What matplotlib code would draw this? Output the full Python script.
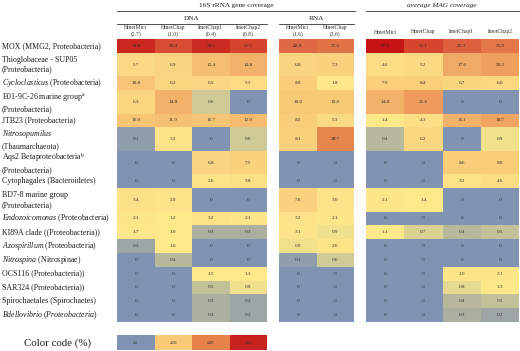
import numpy as np
import matplotlib
matplotlib.use("Agg")
import matplotlib.pyplot as plt
from matplotlib.colors import LinearSegmentedColormap, Normalize

plt.rcParams["font.family"] = ["Liberation Serif", "DejaVu Serif"]
plt.rcParams["mathtext.fontset"] = "custom"
plt.rcParams["mathtext.rm"] = "Liberation Serif"
plt.rcParams["mathtext.it"] = "Liberation Serif:italic"

ROW_LABELS = [
    "MOX (MMG2, Proteobacteria)",
    "Thioglobaceae - SUP05\n(Proteobacteria)",
    r"$\mathit{Cycloclasticus}$ (Proteobacteria)",
    "E01-9C-26 marine group$^{\\mathrm{a}}$\n(Proteobacteria)",
    "JTB23 (Proteobacteria)",
    "$\\mathit{Nitrosopumilus}$\n(Thaumarchaeota)",
    "Aqs2 Betaproteobacteria$^{\\mathrm{b}}$\n(Proteobacteria)",
    "Cytophagales (Bacteroidetes)",
    "BD7-8 marine group\n(Proteobacteria)",
    r"$\mathit{Endozoicomonas}$ (Proteobacteria)",
    "KI89A clade ((Proteobacteria))",
    r"$\mathit{Azospirillum}$ (Proteobacteria)",
    r"$\mathit{Nitrospina}$ (Nitrospinae)",
    "OCS116 (Proteobacteria))",
    "SAR324 (Proteobacteria))",
    "Spirochaetales (Spirochaetes)",
    r"$\mathit{Bdellovibrio\ (Proteobacteria)}$",
]

DNA_COLS = ["HmetMict\n(2.7)", "HmetChap\n(1.0)", "ImetChap1\n(0.4)", "ImetChap2\n(0.8)"]
RNA_COLS = ["HmetMict\n(1.6)", "HmetChap\n(3.6)"]
MAG_COLS = ["HmetMict", "HmetChap", "ImetChap1", "ImetChap2"]

DNA = [
    [58.8, 50.4, 58.1, 52.5],
    [5.7, 6.9, 12.4, 14.8],
    [10.8, 6.2, 6.5, 5.1],
    [6.3, 14.8, 0.6, 0],
    [10.9, 11.9, 10.7, 12.9],
    [0.1, 3.2, 0, 0.6],
    [0, 0, 6.8, 7.5],
    [0, 0, 2.6, 3.8],
    [3.4, 2.9, 0, 0],
    [2.1, 1.2, 3.2, 2.1],
    [1.7, 1.0, 0.3, 0.3],
    [0.2, 1.0, 0, 0],
    [0, 0.4, 0, 0],
    [0, 0, 1.5, 1.3],
    [0, 0, 0.5, 0.9],
    [0, 0, 0.3, 0.2],
    [0, 0, 0.3, 0.2],
]

RNA = [
    [42.8, 37.6],
    [6.8, 7.3],
    [8.9, 1.8],
    [10.0, 10.0],
    [8.5, 5.3],
    [8.1, 28.7],
    [0, 0],
    [0, 0],
    [7.6, 3.0],
    [3.2, 2.1],
    [3.1, 0.9],
    [0.9, 2.6],
    [0.1, 0.6],
    [0, 0],
    [0, 0],
    [0, 0],
    [0, 0],
]

MAG = [
    [67.6, 52.1, 45.3, 35.9],
    [4.6, 5.2, 17.0, 20.2],
    [7.9, 8.4, 6.7, 6.0],
    [14.8, 21.6, 0, 0],
    [1.4, 4.3, 15.1, 18.7],
    [0.4, 6.2, 0, 0.9],
    [0, 0, 8.6, 9.0],
    [0, 0, 3.2, 4.6],
    [2.1, 1.4, 0, 0],
    [0, 0, 0, 0],
    [1.1, 0.7, 0.4, 0.5],
    [0, 0, 0, 0],
    [0, 0, 0, 0],
    [0, 0, 2.0, 2.1],
    [0, 0, 0.8, 1.3],
    [0, 0, 0.4, 0.5],
    [0, 0, 0.3, 0.2],
]

LEGEND_VALUES = [0, 10, 30, 60]
LEGEND_LABELS = ["≤0", "≤10", "≤30", "≤60"]

W, H = 520, 351
VMAX = 68.0

anchors = [
    (0.0, "#8193b3"),
    (0.25, "#a6aba1"),
    (0.55, "#c9c697"),
    (1.0, "#fde98a"),
    (3.0, "#fde389"),
    (6.0, "#fbd782"),
    (10.0, "#f8c977"),
    (15.0, "#f3b169"),
    (21.0, "#ee9d5e"),
    (30.0, "#e7834a"),
    (43.0, "#df6845"),
    (52.0, "#d6472f"),
    (60.0, "#c8221c"),
    (VMAX, "#c41414"),
]
cmap = LinearSegmentedColormap.from_list(
    "cov", [(v / VMAX, c) for v, c in anchors], N=4096
)
norm = Normalize(0, VMAX)

# double-line rows are taller
row_weights = np.array([1.7 if "\n" in r else 1.0 for r in ROW_LABELS])
y_edges = np.concatenate([[0], np.cumsum(row_weights)])
y_mid = (y_edges[:-1] + y_edges[1:]) / 2

TOP, BOTTOM = 39, 322


def px_axes(fig, x0, y0, x1, y1):
    return fig.add_axes([x0 / W, 1 - y1 / H, (x1 - x0) / W, (y1 - y0) / H])


def fmt(v):
    return "0" if v == 0 else f"{v:.1f}"


def draw_block(ax, values):
    values = np.asarray(values, dtype=float)
    ncol = values.shape[1]
    ax.pcolormesh(np.arange(ncol + 1), y_edges, values, cmap=cmap, norm=norm)
    for i in range(values.shape[0]):
        for j in range(ncol):
            ax.text(j + 0.5, y_mid[i], fmt(values[i, j]), ha="center",
                    va="center", fontsize=3.7, color="#2b2b2b")
    ax.set_xlim(0, ncol)
    ax.set_ylim(y_edges[-1], 0)
    ax.axis("off")


fig = plt.figure(figsize=(W / 100, H / 100), dpi=100)

blocks = [
    (DNA, DNA_COLS, 117, 267),
    (RNA, RNA_COLS, 279, 354),
    (MAG, MAG_COLS, 366, 519),
]
for values, cols, x0, x1 in blocks:
    ax = px_axes(fig, x0, TOP, x1, BOTTOM)
    draw_block(ax, values)

# overlay for labels and header lines, in pixel units
ov = fig.add_axes([0, 0, 1, 1], zorder=-1)
ov.set_xlim(0, W)
ov.set_ylim(H, 0)
ov.axis("off")

row_px = TOP + y_mid / y_edges[-1] * (BOTTOM - TOP)
for label, y in zip(ROW_LABELS, row_px):
    ov.text(2, y, label, ha="left", va="center", fontsize=5.7,
            color="#1a1a1a", linespacing=1.3)

line_kw = dict(color="#333333", lw=0.6)
ov.text(236, 5, "16S rRNA gene coverage", ha="center", va="center",
        fontsize=5.2, color="#222222")
ov.plot([117, 355], [10.5, 10.5], **line_kw)
ov.text(442, 5, "average MAG coverage", ha="center", va="center",
        fontsize=5.2, style="italic", color="#222222")
ov.plot([366, 519], [10.5, 10.5], **line_kw)
ov.text(192, 18, "DNA", ha="center", va="center", fontsize=5.2, color="#222222")
ov.plot([117, 267], [23.5, 23.5], **line_kw)
ov.text(316, 18, "RNA", ha="center", va="center", fontsize=5.2, color="#222222")
ov.plot([279, 354], [23.5, 23.5], **line_kw)

for values, cols, x0, x1 in blocks:
    cw = (x1 - x0) / len(cols)
    for j, c in enumerate(cols):
        yc = 31 if "\n" in c else 32
        ov.text(x0 + cw * (j + 0.5), yc, c, ha="center", va="center",
                fontsize=4.1, color="#333333", linespacing=1.3)

# colour legend
lax = px_axes(fig, 117, 335, 267, 350)
lax.pcolormesh(np.arange(len(LEGEND_VALUES) + 1), [0, 1],
               np.array([LEGEND_VALUES], dtype=float), cmap=cmap, norm=norm)
for j, lab in enumerate(LEGEND_LABELS):
    lax.text(j + 0.5, 0.5, lab, ha="center", va="center", fontsize=3.5,
             color="#2b2b2b")
lax.set_xlim(0, len(LEGEND_VALUES))
lax.set_ylim(1, 0)
lax.axis("off")
ov.text(57, 343, "Color code (%)", ha="center", va="center", fontsize=7.8,
        color="#1a1a1a")

fig.savefig("out.png", dpi=100)
